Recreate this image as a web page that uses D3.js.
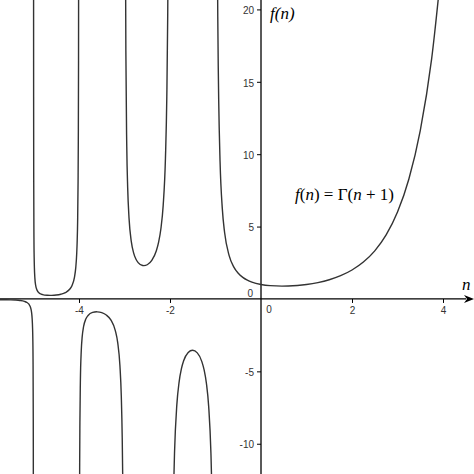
<!DOCTYPE html>
<html>
<head>
<meta charset="utf-8">
<script src="https://cdn.jsdelivr.net/npm/d3@7"></script>
<style>
  body { margin: 0; background: #fff; }
  svg { display: block; }
  .tick text { font-family: "Liberation Sans", Arial, sans-serif; font-size: 10px; fill: #333; }
  .tick line { stroke: #000; }
  .lbl { font-family: "Liberation Serif", "Times New Roman", serif; fill: #000; }
</style>
</head>
<body>
<svg width="474" height="474"></svg>
<script>
let width = 474, height = 474;

// visible range of the plot
let xDomain = [-5.736, 4.681];
let yDomain = [20.65, -12.09];

let xTicks = [-4, -2, 2, 4];
let yTicks = [-10, -5, 5, 10, 15, 20];

// f(n) = Γ(n+1), one array per branch between the poles, [n, f(n)]
let branchF = [
  [-5.8, -0.0624], [-5.7, -0.0535], [-5.6, -0.0537], [-5.5, -0.0600], [-5.4, -0.0741],
  [-5.3, -0.1020], [-5.2, -0.1641], [-5.15, -0.2295], [-5.1, -0.3639], [-5.07, -0.5398],
  [-5.05, -0.7760], [-5.04, -0.9827], [-5.03, -1.329], [-5.02, -2.022], [-5.015, -2.716],
  [-5.01, -4.105], [-5.005, -8.272], [-5.004, -10.35], [-5.003, -13.82]
];
let branchD = [
  [-4.998, 20.90], [-4.997, 13.95], [-4.995, 8.397], [-4.99, 4.231], [-4.985, 2.841],
  [-4.98, 2.148], [-4.97, 1.455], [-4.95, 0.9020], [-4.93, 0.6664], [-4.9, 0.4921],
  [-4.85, 0.3605], [-4.8, 0.2996], [-4.7, 0.2516], [-4.6352, 0.2451], [-4.6, 0.2469],
  [-4.5, 0.2701], [-4.4, 0.3259], [-4.3, 0.4385], [-4.2, 0.6891], [-4.15, 0.9524],
  [-4.1, 1.492], [-4.07, 2.197], [-4.05, 3.143], [-4.04, 3.970], [-4.03, 5.356],
  [-4.02, 8.129], [-4.015, 10.905], [-4.01, 16.46], [-4.005, 33.13]
];
let branchE = [
  [-3.99, -16.88], [-3.985, -11.32], [-3.98, -8.550], [-3.97, -5.778], [-3.95, -3.563],
  [-3.93, -2.619], [-3.9, -1.919], [-3.85, -1.388], [-3.8, -1.1386], [-3.7, -0.9311],
  [-3.6107, -0.8881], [-3.6, -0.8888], [-3.5, -0.9453], [-3.4, -1.108], [-3.3, -1.447],
  [-3.2, -2.205], [-3.15, -3.000], [-3.1, -4.626], [-3.07, -6.744], [-3.05, -9.585],
  [-3.04, -12.07], [-3.03, -16.23]
];
let branchC = [
  [-2.98, 25.48], [-2.97, 17.16], [-2.95, 10.510], [-2.93, 7.674], [-2.9, 5.564],
  [-2.85, 3.956], [-2.8, 3.188], [-2.75, 2.762], [-2.7, 2.514], [-2.6, 2.311],
  [-2.5734, 2.3024], [-2.5, 2.3633], [-2.4, 2.659], [-2.3, 3.328], [-2.25, 3.921],
  [-2.2, 4.851], [-2.15, 6.450], [-2.1, 9.715], [-2.07, 13.96], [-2.05, 19.65], [-2.04, 24.63]
];
let branchB = [
  [-1.93, -14.81], [-1.92, -13.04], [-1.9, -10.571], [-1.85, -7.318], [-1.8, -5.739],
  [-1.75, -4.834], [-1.7, -4.274], [-1.6, -3.697], [-1.504, -3.5446], [-1.4, -3.723],
  [-1.3, -4.327], [-1.25, -4.9017], [-1.2, -5.821], [-1.15, -7.417], [-1.1, -10.686],
  [-1.08, -13.16], [-1.07, -14.94]
];
let branchA = [
  [-0.97, 32.78], [-0.96, 24.46], [-0.95, 19.47], [-0.94, 16.15], [-0.93, 13.77],
  [-0.9, 9.514], [-0.85, 6.220], [-0.8, 4.591], [-0.7, 2.992], [-0.6, 2.218],
  [-0.5, 1.772], [-0.4, 1.489], [-0.3, 1.298], [-0.2, 1.164], [0, 1], [0.2, 0.918],
  [0.4616, 0.8856], [0.6, 0.8935], [0.8, 0.9314], [1, 1], [1.25, 1.133], [1.5, 1.329],
  [1.75, 1.608], [2, 2], [2.25, 2.549], [2.5, 3.323], [2.75, 4.423], [3, 6],
  [3.25, 8.285], [3.5, 11.632], [3.75, 16.586], [4, 24]
];
let branches = [branchF, branchD, branchE, branchC, branchB, branchA];

var svg = d3.select('svg');

var x = d3.scaleLinear().domain(xDomain).range([0, width]);
var y = d3.scaleLinear().domain(yDomain).range([0, height]);

svg.append('defs').append('clipPath')
    .attr('id', 'plot')
    .append('rect')
    .attr('x', 0).attr('y', 0)
    .attr('width', width).attr('height', height);

// axes
var xAxis = d3.axisBottom(x).tickValues(xTicks).tickSize(4).tickPadding(4)
    .tickFormat(d => String(d));
var yAxis = d3.axisLeft(y).tickValues(yTicks).tickSize(4).tickPadding(3)
    .tickFormat(d => String(d));

svg.append('g')
    .attr('transform', `translate(0, ${y(0)})`)
    .call(xAxis)
    .call(g => g.select('.domain').remove());

svg.append('g')
    .attr('transform', `translate(${x(0)}, 0)`)
    .call(yAxis)
    .call(g => g.select('.domain').remove())
    .selectAll('.tick text').attr('dy', '0.42em');

// the two zeros at the origin
svg.append('text')
    .attr('x', x(0) - 8).attr('y', y(0) - 5)
    .attr('dy', '0.35em')
    .attr('text-anchor', 'end')
    .style('font-family', '"Liberation Sans", Arial, sans-serif')
    .style('font-size', '10px').style('fill', '#333')
    .text('0');
svg.append('text')
    .attr('x', x(0) + 8).attr('y', y(0) + 11)
    .attr('dy', '0.35em')
    .attr('text-anchor', 'middle')
    .style('font-family', '"Liberation Sans", Arial, sans-serif')
    .style('font-size', '10px').style('fill', '#333')
    .text('0');

// axis lines
svg.append('line')
    .attr('x1', 0).attr('x2', width - 8)
    .attr('y1', y(0)).attr('y2', y(0))
    .attr('stroke', '#000').attr('stroke-width', 1.3);
svg.append('path')
    .attr('d', `M${width},${y(0)} L${width - 10},${y(0) - 4} L${width - 7},${y(0)} L${width - 10},${y(0) + 4} Z`)
    .attr('fill', '#000');
svg.append('line')
    .attr('x1', x(0)).attr('x2', x(0))
    .attr('y1', 0).attr('y2', height)
    .attr('stroke', '#000').attr('stroke-width', 1.3);

// curve
var line = d3.line()
    .x(d => x(d[0]))
    .y(d => y(d[1]))
    .curve(d3.curveMonotoneX);

svg.append('g')
    .attr('clip-path', 'url(#plot)')
    .selectAll('path')
    .data(branches)
    .enter()
    .append('path')
    .attr('d', line)
    .attr('fill', 'none')
    .attr('stroke', '#333')
    .attr('stroke-width', 1.4);

// labels
svg.append('text').attr('class', 'lbl')
    .attr('x', 462).attr('y', 290)
    .style('font-size', '17px').style('font-style', 'italic')
    .text('n');

svg.append('text').attr('class', 'lbl')
    .attr('x', 270).attr('y', 19)
    .style('font-size', '17px').style('font-style', 'italic')
    .text('f(n)');

var formula = svg.append('text').attr('class', 'lbl')
    .attr('x', 295).attr('y', 200)
    .style('font-size', '17px');
formula.append('tspan').style('font-style', 'italic').text('f');
formula.append('tspan').text('(');
formula.append('tspan').style('font-style', 'italic').text('n');
formula.append('tspan').text(') = Γ(');
formula.append('tspan').style('font-style', 'italic').text('n');
formula.append('tspan').text(' + 1)');
</script>
</body>
</html>
